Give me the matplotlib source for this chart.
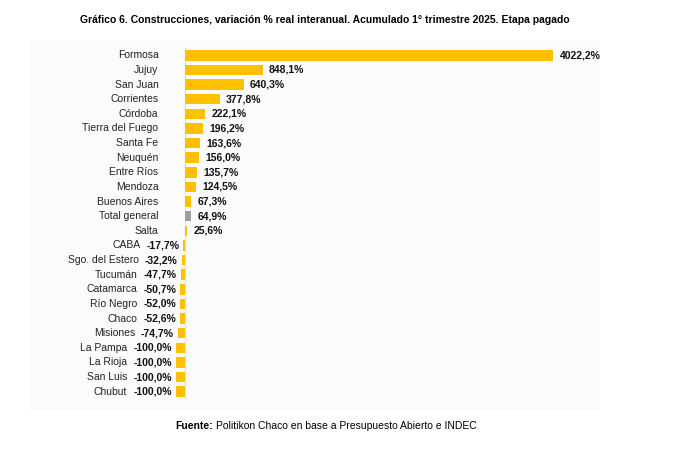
import matplotlib.pyplot as plt

regions = ["Formosa", "Jujuy", "San Juan", "Corrientes", "Córdoba", "Tierra del Fuego",
           "Santa Fe", "Neuquén", "Entre Ríos", "Mendoza", "Buenos Aires", "Total general",
           "Salta", "CABA", "Sgo. del Estero", "Tucumán", "Catamarca", "Río Negro", "Chaco",
           "Misiones", "La Pampa", "La Rioja", "San Luis", "Chubut"]
values = [4022.2, 848.1, 640.3, 377.8, 222.1, 196.2, 163.6, 156.0, 135.7, 124.5, 67.3, 64.9,
          25.6, -17.7, -32.2, -47.7, -50.7, -52.0, -52.6, -74.7, -100.0, -100.0, -100.0, -100.0]

plt.rcParams['font.family'] = ['Liberation Sans', 'DejaVu Sans']

fig = plt.figure(figsize=(6.75, 4.61), dpi=100)
panel = fig.add_axes([30/675, 1-410/461, 570/675, 370/461], zorder=0)
panel.axis("off")
panel.add_patch(plt.Rectangle((0, 0), 1, 1, color="#fbfbfb", transform=panel.transAxes))

ax = fig.add_axes([160/675, 1-399/461, 440/675, 351/461], zorder=1)
ax.set_facecolor("none")

ys = list(range(len(regions)))
colors = ["#9e9e9e" if r == "Total general" else "#ffc000" for r in regions]
ax.barh(ys, values, height=0.72, color=colors)
ax.axvline(0, color="#e0e0e0", lw=0.8, zorder=0)
ax.set_xlim(-273, 4536)
ax.set_ylim(len(regions) - 0.5, -0.5)
ax.set_xticks([])
ax.set_yticks([])
for s in ax.spines.values():
    s.set_visible(False)

fig.canvas.draw()
renderer = fig.canvas.get_renderer()
for y, r, v in zip(ys, regions, values):
    lab = f"{v:.1f}%".replace(".", ",")
    if v >= 0:
        ax.text(v + 70, y, lab, ha="left", va="center", fontsize=7.5, fontweight="bold", color="#111111")
        ax.text(-290, y, r, ha="right", va="center", fontsize=7.5, color="#222222")
    else:
        vt = ax.annotate(lab, (v, y), xytext=(-3, 0), textcoords="offset points",
                         ha="right", va="center", fontsize=7.5, fontweight="bold", color="#111111")
        bb = vt.get_window_extent(renderer)
        fig.text((bb.x0 - 6) / 675, ax.transData.transform((0, y))[1] / 461, r,
                 ha="right", va="center", fontsize=7.5, color="#222222")

fig.text(325/675, 1-20/461, "Gráfico 6. Construcciones, variación % real interanual. Acumulado 1° trimestre 2025. Etapa pagado",
         ha="center", va="center", fontsize=7.5, fontweight="bold")
t = fig.text(175/675, 1-426/461, "Fuente:", ha="left", va="center", fontsize=7.5, fontweight="bold")
bb = t.get_window_extent(renderer)
fig.text((bb.x1 + 3) / 675, 1-426/461, "Politikon Chaco en base a Presupuesto Abierto e INDEC",
         ha="left", va="center", fontsize=7.5)

fig.savefig("out.png", dpi=100)
